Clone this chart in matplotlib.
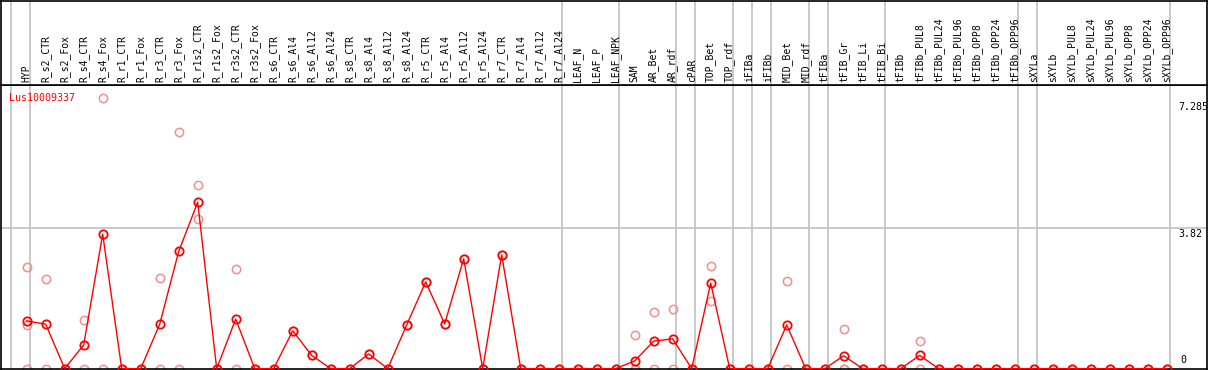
import matplotlib
matplotlib.use("Agg")
import matplotlib.pyplot as plt
import matplotlib.transforms as mtransforms

# ---------------- data ----------------
labels = [
    "HYP", "R_s2_CTR", "R_s2_Fox", "R_s4_CTR", "R_s4_Fox", "R_r1_CTR", "R_r1_Fox",
    "R_r3_CTR", "R_r3_Fox", "R_r1s2_CTR", "R_r1s2_Fox", "R_r3s2_CTR", "R_r3s2_Fox",
    "R_s6_CTR", "R_s6_Al4", "R_s6_Al12", "R_s6_Al24",
    "R_s8_CTR", "R_s8_Al4", "R_s8_Al12", "R_s8_Al24",
    "R_r5_CTR", "R_r5_Al4", "R_r5_Al12", "R_r5_Al24",
    "R_r7_CTR", "R_r7_Al4", "R_r7_Al12", "R_r7_Al24",
    "LEAF_N", "LEAF_P", "LEAF_NPK",
    "SAM", "AR_Bet", "AR_rdf", "cPAR", "TOP_Bet", "TOP_rdf", "iFIBa", "iFIBb",
    "MID_Bet", "MID_rdf", "tFIBa", "tFIB_Gr", "tFIB_Li", "tFIB_Bi",
    "tFIBb", "tFIBb_PUL8", "tFIBb_PUL24", "tFIBb_PUL96", "tFIBb_OPP8", "tFIBb_OPP24", "tFIBb_OPP96",
    "sXYLa", "sXYLb", "sXYLb_PUL8", "sXYLb_PUL24", "sXYLb_PUL96", "sXYLb_OPP8", "sXYLb_OPP24", "sXYLb_OPP96",
]

# sizes of the sample groups separated by grey lines
group_sizes = [1, 28, 3, 3, 1, 2, 1, 1, 2, 1, 3, 7, 1, 7]

means = [
    1.30, 1.21, 0.0, 0.645, 3.66, 0.0, 0.0, 1.21, 3.19, 4.53, 0.0, 1.35, 0.0,
    0.0, 1.03, 0.36, 0.0,
    0.0, 0.40, 0.0, 1.19,
    2.36, 1.22, 2.99, 0.0,
    3.10, 0.0, 0.0, 0.0,
    0.0, 0.0, 0.0,
    0.21, 0.75, 0.81, 0.0, 2.33, 0.0, 0.0, 0.0,
    1.19, 0.0, 0.0, 0.35, 0.0, 0.0,
    0.0, 0.36, 0.0, 0.0, 0.0, 0.0, 0.0,
    0.0, 0.0, 0.0, 0.0, 0.0, 0.0, 0.0, 0.0,
]

replicates = [
    [2.76, 1.18, 0.0], [2.43, 0.0], [0.0], [1.33, 0.0], [7.36, 0.0], [0.0], [0.0],
    [2.46, 0.0], [6.43, 0.0], [4.99, 4.08], [0.0], [2.70, 0.0], [0.0],
    [0.0], [1.03], [0.36], [0.0],
    [0.0], [0.40], [0.0], [1.19],
    [2.36], [1.22], [2.99], [0.0],
    [3.10], [0.0], [0.0], [0.0],
    [0.0], [0.0], [0.0],
    [0.91, 0.0, 0.0, 0.0], [1.54, 0.0], [1.62, 0.0], [0.0], [2.79, 1.85], [0.0], [0.0], [0.0],
    [2.39, 0.0], [0.0], [0.0], [1.08, 0.0, 0.0], [0.0], [0.0],
    [0.0], [0.75, 0.0], [0.0], [0.0], [0.0], [0.0], [0.0],
    [0.0], [0.0], [0.0], [0.0], [0.0], [0.0], [0.0], [0.0],
]

gene_name = "Lus10009337"
y_ticks = [0, 3.82, 7.285]
y_tick_labels = ["0", "3.82", "7.285"]

# ---------------- layout ----------------
W, H = 1209, 370
fig = plt.figure(figsize=(W / 100, H / 100), dpi=100)
fig.patch.set_facecolor("white")

px_left, px_right = 1, 1207
px_header_bottom = 85
px_plot_bottom = 369
x0_px, dx_px = 26.7, 19.0  # pixel of first sample and spacing
xlim = ((px_left - x0_px) / dx_px, (px_right - x0_px) / dx_px)

left = px_left / W
width = (px_right - px_left) / W
ax = fig.add_axes([left, (H - px_plot_bottom) / H, width,
                   (px_plot_bottom - px_header_bottom) / H])
axh = fig.add_axes([left, (H - px_header_bottom) / H, width,
                    (px_header_bottom - 0.5) / H])

mono = "DejaVu Sans Mono"
grey = "#c0c0c0"

for a in (ax, axh):
    a.set_xlim(*xlim)
    a.set_xticks([])
    a.set_yticks([])
    for s in a.spines.values():
        s.set_color("black")
        s.set_linewidth(1.2)
axh.set_ylim(0, 1)
ax.set_ylim(-0.01, 7.72)

# group separators
pos = -1
sep_positions = [pos + 0.19]
for g in group_sizes:
    pos += g
    sep_positions.append(pos + 0.19)
for xs in sep_positions:
    ax.axvline(xs, color=grey, lw=1.2, zorder=1)
    axh.axvline(xs, color=grey, lw=1.2, zorder=1)

# horizontal reference line at middle tick
ax.axhline(y_ticks[1], color=grey, lw=1.2, zorder=1)

# header labels
trans_h = mtransforms.blended_transform_factory(axh.transData, axh.transAxes)
for i, lab in enumerate(labels):
    axh.text(i, 0.035, lab, rotation=90, ha="center", va="bottom",
             fontsize=7, family=mono, color="black", transform=trans_h)

# replicates
xs_r, ys_r = [], []
for i, reps in enumerate(replicates):
    for v in reps:
        xs_r.append(i)
        ys_r.append(v)
ax.plot(xs_r, ys_r, linestyle="none", marker="o", ms=6.0, mfc="none",
        mec="#ee9090", mew=1.1, zorder=2)

# mean line
x = list(range(len(means)))
ax.plot(x, means, color="#ff0000", lw=1.0, marker="o", ms=6.0, mfc="none",
        mec="#ff0000", mew=1.3, zorder=3)

# gene label
ax.text(8.5 / (px_right - px_left), 0.955, gene_name, transform=ax.transAxes,
        color="#ff0000", fontsize=7.2, family=mono, ha="left", va="center")

# right-side value labels
x_lab = (1178 - x0_px) / dx_px
for v, t in zip(y_ticks, y_tick_labels):
    if v == 0:
        off = mtransforms.offset_copy(ax.transData, fig=fig, x=2, y=4, units="dots")
        ax.text(x_lab, v, t, transform=off, ha="left", va="bottom",
                fontsize=7.2, family=mono)
    else:
        off = mtransforms.offset_copy(ax.transData, fig=fig, x=0, y=-1, units="dots")
        ax.text(x_lab, v, t, transform=off, ha="left", va="top",
                fontsize=7.2, family=mono)

fig.savefig("out.png", dpi=100, facecolor="white")
